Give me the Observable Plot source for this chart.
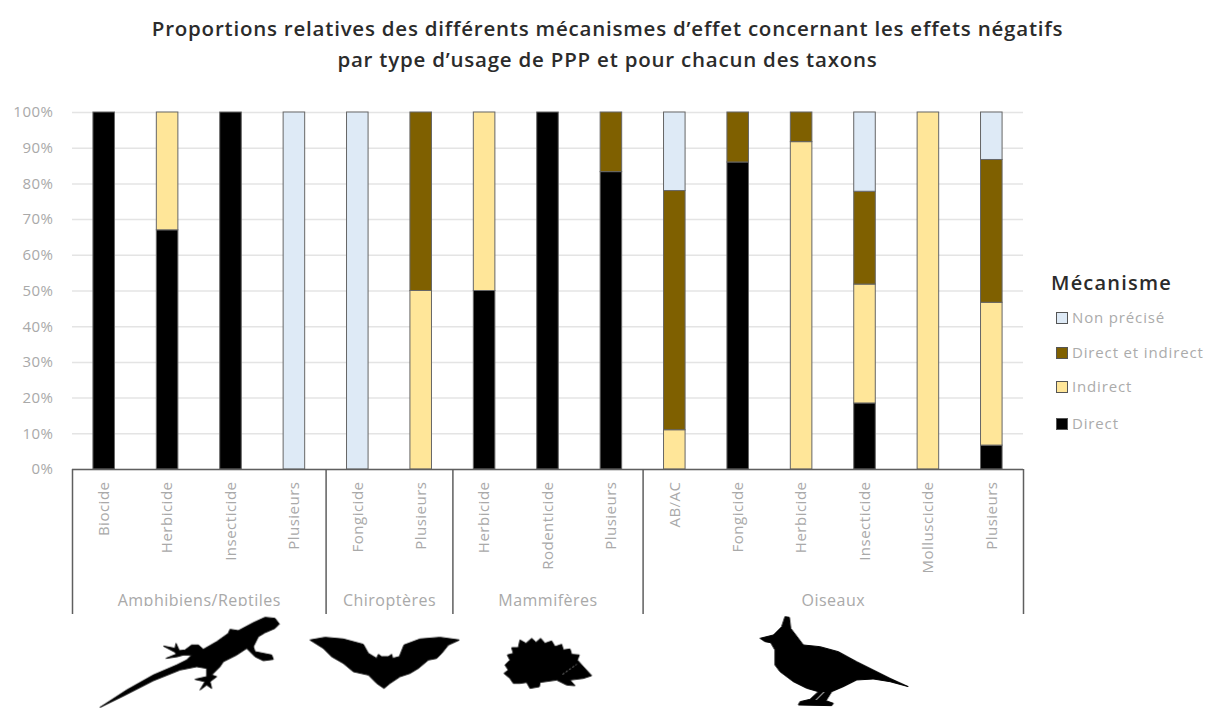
<!DOCTYPE html>
<html lang="fr">
<head>
<meta charset="utf-8">
<title>Mécanismes d'effet</title>
<script src="https://cdn.jsdelivr.net/npm/d3@7"></script>
<script src="https://cdn.jsdelivr.net/npm/@observablehq/plot@0.6"></script>
<style>
html,body{margin:0;padding:0;background:#fff;}
#stage{position:relative;width:1206px;height:708px;overflow:hidden;font-family:"Open Sans",sans-serif;}
#chart{position:absolute;left:0;top:0;}
#title{position:absolute;left:0;width:1215px;top:13px;text-align:center;font-size:20.5px;line-height:31px;font-weight:600;color:#2b2b2b;letter-spacing:.78px;white-space:nowrap;}
#legend{position:absolute;left:1051px;top:268px;}
#legend h3{margin:0;font-size:20px;line-height:30px;font-weight:600;color:#2b2b2b;letter-spacing:1.2px;}
.row{position:absolute;left:5px;white-space:nowrap;font-size:15px;line-height:18px;color:#ababab;letter-spacing:.85px;}
.row i{display:inline-block;width:10px;height:10px;border:1px solid #555;margin-right:4px;vertical-align:-1px;}
#art{position:absolute;left:0;top:0;pointer-events:none;}
.sil path{stroke:#000;stroke-width:3;stroke-linejoin:round;}
.sil path.gap{stroke:#fff;fill:none;}
</style>
</head>
<body>
<div id="stage">
  <div id="chart"></div>
  <div id="title">Proportions relatives des différents mécanismes d’effet concernant les effets négatifs<br>par type d’usage de PPP et pour chacun des taxons</div>
  <div id="legend"><h3>Mécanisme</h3></div>
  <svg id="art" width="1206" height="708" viewBox="0 0 1206 708">
    <rect x="85" y="606" width="200" height="8" fill="#fff"/>
    <g class="sil" style="filter:blur(.6px)" fill="#000">
      <path transform="translate(90 610) scale(.3333)" d="M30 292L110 240L190 195L260 165L290 150L305 135L280 135L262 140L228 145L260 132L252 125L220 108L255 115L258 100L268 122L285 120L305 105L325 105L340 118L380 95L415 70L420 58L445 62L490 38L525 22L555 25L568 42L555 55L525 68L505 80L490 110L495 125L520 130L545 135L550 148L520 152L495 140L480 125L470 115L440 135L400 155L390 170L365 195L380 200L360 215L365 235L350 225L330 240L345 215L315 208L350 200L350 175L320 170L270 180L190 212L100 258Z"/>
      <g transform="translate(300 625) scale(.3333)">
        <path d="M30 45L75 37L130 42L190 58L205 85L230 100L235 88L245 95L265 95L275 88L278 100L298 95L312 60L360 42L420 37L478 45L445 60L425 85L410 100L385 105L355 130L330 145L300 155L270 175L252 190L230 175L205 150L160 140L130 115L95 95L70 70Z"/>
        <path d="M615 120L630 105L622 90L640 85L635 68L655 68L660 45L678 55L695 40L708 52L722 40L735 55L755 48L765 65L785 58L790 75L810 72L815 88L838 90L832 105L850 125L875 152L850 160L810 165L825 182L800 180L770 165L720 172L718 185L690 190L680 172L660 175L640 175L630 160L612 145L625 135Z"/>
        <path class="gap" d="M788 148L830 118" stroke-opacity=".6" stroke-dasharray="6 6"/>
      </g>
      <g transform="translate(750 610) scale(.3333)">
        <path d="M30 85L70 75L95 50L105 20L118 22L122 55L145 85L160 105L210 110L265 125L320 155L370 180L420 205L475 230L420 215L370 207L320 210L280 230L245 245L228 272L250 280L245 287L145 285L150 275L180 268L205 245L170 235L130 215L90 185L75 165L75 120L62 98L45 95Z"/>
        <path class="gap" d="M222 246L198 270"/>
      </g>
    </g>
  </svg>
</div>
<script>
const groups = ["Amphibiens/Reptiles", "Chiroptères", "Mammifères", "Oiseaux"];
const groupSizes = [4, 2, 3, 6];
const usages = ["Biocide","Herbicide","Insecticide","Plusieurs","Fongicide","Plusieurs","Herbicide","Rodenticide","Plusieurs","AB/AC","Fongicide","Herbicide","Insecticide","Molluscicide","Plusieurs"];
const mechanisms = ["Direct", "Indirect", "Direct et indirect", "Non précisé"];
const colors = ["#000000", "#FFE699", "#7F6000", "#DEEAF6"];
const direct        = [1, .67, 1, 0, 0, 0, .5, 1, .833, 0, .86, 0, .185, 0, .067];
const indirect      = [0, .33, 0, 0, 0, .5, .5, 0, 0, .11, 0, .917, .333, 1, .4];
const directIndirect= [0, 0, 0, 0, 0, .5, 0, 0, .167, .67, .14, .083, .26, 0, .4];
const nonPrecise    = [0, 0, 0, 1, 1, 0, 0, 0, 0, .22, 0, 0, .222, 0, .133];
const yTicks = [0, .1, .2, .3, .4, .5, .6, .7, .8, .9, 1];

const series = [direct, indirect, directIndirect, nonPrecise];
const rows = series.flatMap((vals, s) =>
  vals.map((v, i) => ({i, value: v, mechanism: mechanisms[s]})).filter(d => d.value > 0));

const starts = groupSizes.map((_, k) => d3.sum(groupSizes.slice(0, k)));
const grey = "#a9a9a9", frame = "#5f5f5f";
const band = 951 / 15;
const belowAxis = -145 / 357;        // the bracket reaches below the 0 % line
const groupRows = groups.map((g, k) => ({g, k}));

const chart = Plot.plot({
  width: 1206, height: 708,
  marginTop: 112, marginBottom: 239, marginLeft: 72, marginRight: 183,
  style: {fontFamily: '"Open Sans", sans-serif', background: "#fff", letterSpacing: "0.5px"},
  x: {domain: d3.range(usages.length), paddingInner: 0.66, paddingOuter: 0.33, round: false, label: null},
  y: {domain: [0, 1], label: null},
  color: {domain: mechanisms, range: colors},
  marks: [
    Plot.gridY(yTicks, {stroke: "#e4e4e4", strokeOpacity: 1, strokeWidth: 1.5}),
    Plot.axisY({ticks: yTicks, tickFormat: d => Math.round(d * 100) + "%", tickSize: 0, tickPadding: 19,
      fontSize: 15, fill: grey, label: null}),
    Plot.axisX({tickSize: 0, tickRotate: -90, tickPadding: 12, tickFormat: i => usages[i],
      fontSize: 15, fill: grey, label: null}),
    Plot.barY(rows, Plot.stackY({x: "i", y: "value", fill: "mechanism", order: mechanisms,
      stroke: "#666", strokeWidth: 1})),
    Plot.ruleY([0], {stroke: frame, strokeWidth: 1.5}),
    Plot.ruleX(starts, {x: d => d, y1: 0, y2: belowAxis, dx: -band / 2, stroke: frame, strokeWidth: 1.5, clip: false}),
    Plot.ruleX([usages.length - 1], {x: d => d, y1: 0, y2: belowAxis, dx: band / 2, stroke: frame, strokeWidth: 1.5, clip: false}),
    Plot.text(groupRows.filter(d => groupSizes[d.k] % 2 === 0), {
      x: d => starts[d.k] + groupSizes[d.k] / 2, y: -0.367, dx: -band / 2, text: "g",
      fontSize: 16, fill: grey, clip: false}),
    Plot.text(groupRows.filter(d => groupSizes[d.k] % 2 === 1), {
      x: d => starts[d.k] + (groupSizes[d.k] - 1) / 2, y: -0.367, text: "g",
      fontSize: 16, fill: grey, clip: false})
  ]
});
document.getElementById("chart").append(chart);

// Legend, from the same arrays
const legend = document.getElementById("legend");
const rowTops = [40, 75, 109, 146];
[...mechanisms].reverse().forEach((m, k) => {
  const row = document.createElement("div");
  row.className = "row";
  row.style.top = rowTops[k] + "px";
  const sw = document.createElement("i");
  sw.style.background = colors[mechanisms.indexOf(m)];
  row.append(sw, m);
  legend.append(row);
});
</script>
</body>
</html>
